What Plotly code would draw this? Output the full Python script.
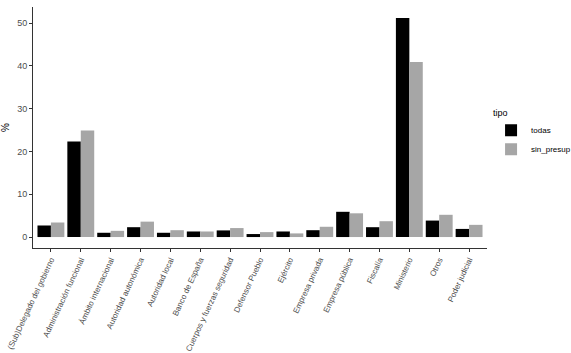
import plotly.graph_objects as go

categories = [
    "(Sub)Delegado del gobierno", "Administración funcional", "Ámbito internacional",
    "Autoridad autonómica", "Autoridad local", "Banco de España",
    "Cuerpos y fuerzas seguridad", "Defensor Pueblo", "Ejército",
    "Empresa privada", "Empresa pública", "Fiscalía", "Ministerio", "Otros",
    "Poder judicial",
]
todas = [2.7, 22.3, 1.0, 2.3, 1.0, 1.3, 1.55, 0.7, 1.3, 1.6, 5.9, 2.3, 51.2, 3.85, 1.9]
sin_presup = [3.4, 24.9, 1.45, 3.6, 1.6, 1.3, 2.1, 1.15, 0.85, 2.4, 5.55, 3.7, 40.9, 5.2, 2.85]
y_ticks = [0, 10, 20, 30, 40, 50]

fig = go.Figure()
fig.add_trace(go.Bar(x=categories, y=todas, name="todas", marker_color="#000000",
                     marker_line_width=0))
fig.add_trace(go.Bar(x=categories, y=sin_presup, name="sin_presup", marker_color="#A6A6A6",
                     marker_line_width=0))

axis_col = "#333333"
fig.update_layout(
    width=571, height=353,
    margin=dict(l=33, r=84, t=7, b=105, autoexpand=False),
    paper_bgcolor="white", plot_bgcolor="white",
    barmode="group", bargap=0.1, bargroupgap=0,
    font=dict(family="Liberation Sans, Arial, sans-serif", size=8, color="#4D4D4D"),
    legend=dict(
        title=dict(text="tipo", font=dict(size=9, color="#000000"), side="top"),
        xref="container", yref="container",
        x=0.86, xanchor="left", y=0.705, yanchor="top",
        font=dict(size=8, color="#000000"),
        tracegroupgap=0, itemsizing="constant", itemwidth=30,
    ),
    xaxis=dict(
        range=[-0.6, len(categories) - 0.4],
        showline=True, linecolor=axis_col, linewidth=1,
        ticks="outside", ticklen=3, tickcolor=axis_col,
        tickangle=-65, tickfont=dict(size=8, color="#4D4D4D"),
        showgrid=False, zeroline=False, automargin=False,
    ),
    yaxis=dict(
        range=[-2.56, 53.76],
        tickvals=y_ticks, ticktext=[str(v) for v in y_ticks],
        showline=True, linecolor=axis_col, linewidth=1,
        ticks="outside", ticklen=3, tickcolor=axis_col,
        tickfont=dict(size=9, color="#4D4D4D"),
        showgrid=False, zeroline=False, automargin=False,
        title=dict(text="%", font=dict(size=10, color="#000000"), standoff=6),
    ),
)

fig.write_html("out.html")
